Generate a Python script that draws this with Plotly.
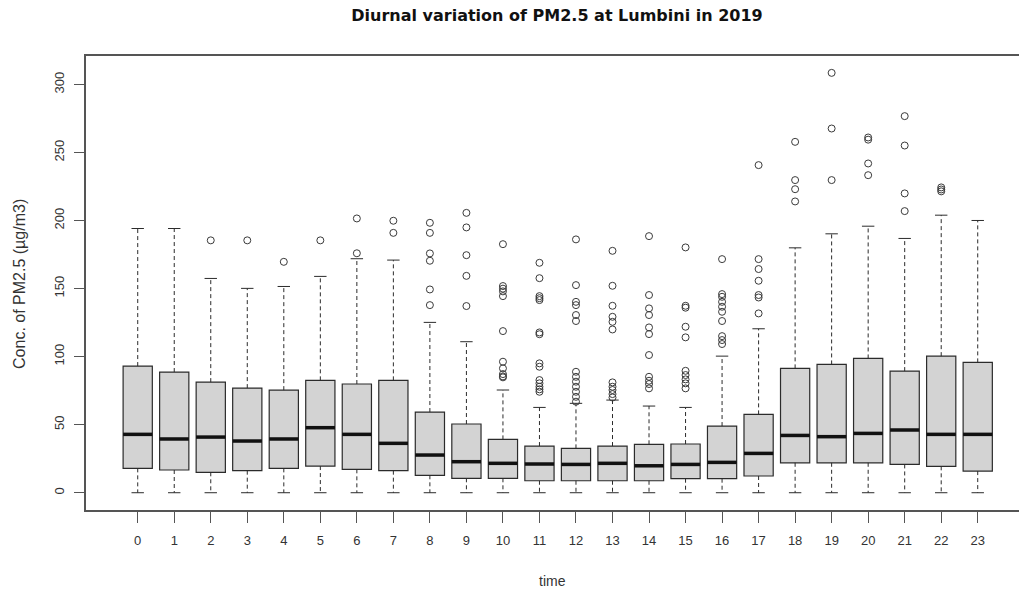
import plotly.graph_objects as go

# hours of the day
hours = list(range(24))

# box statistics (ug/m3)
q1 = [17.9, 16.7, 15.0, 16.2, 17.9, 19.6, 17.2, 16.2, 12.8, 10.6, 10.6, 8.8,
      8.8, 8.8, 8.8, 10.3, 10.3, 12.3, 22.0, 22.0, 22.0, 20.8, 19.4, 15.9]
median = [42.9, 39.5, 40.9, 38.0, 39.5, 47.8, 42.9, 36.3, 27.7, 22.8, 21.6, 21.1,
          20.8, 21.6, 19.8, 20.8, 22.3, 28.9, 42.1, 41.2, 43.6, 46.1, 42.9, 42.9]
q3 = [93.1, 88.7, 81.3, 76.9, 75.4, 82.6, 79.9, 82.6, 59.3, 50.5, 39.2, 34.3,
      32.6, 34.3, 35.6, 35.8, 49.0, 57.6, 91.4, 94.3, 98.7, 89.4, 100.4, 95.8]
lower = [0] * 24
upper = [194.2, 194.2, 157.5, 150.2, 151.6, 159.0, 172.0, 171.0, 125.2, 111.0,
         75.5, 62.7, 65.7, 68.1, 63.7, 62.7, 100.4, 120.5, 180.0, 190.3, 195.9,
         186.9, 204.0, 200.1]

outliers = [
    [],
    [],
    [185.5],
    [185.5],
    [169.7],
    [185.5],
    [201.6, 176.0],
    [199.9, 191.0],
    [198.4, 191.0, 175.9, 170.5, 149.4, 137.9],
    [205.7, 195.0, 174.6, 159.4, 137.2],
    [182.7, 151.9, 150.0, 148.0, 144.5, 118.8, 96.3, 91.4, 87.2, 85.5, 84.8],
    [169.0, 157.7, 144.5, 143.0, 141.6, 117.8, 116.5, 95.1, 92.6, 82.8, 80.4,
     77.9, 76.0, 74.2],
    [186.2, 152.6, 140.3, 137.9, 130.6, 126.2, 88.9, 85.2, 81.6, 77.9, 74.2,
     70.5, 66.9],
    [177.8, 152.1, 137.4, 129.3, 125.6, 120.0, 81.1, 77.9, 75.5, 72.5, 70.0],
    [188.6, 145.3, 135.5, 130.6, 121.5, 116.6, 101.2, 85.2, 82.3, 79.9, 76.7],
    [180.3, 137.4, 136.0, 122.0, 114.2, 89.6, 86.5, 83.3, 80.4, 76.7],
    [171.7, 146.0, 144.0, 140.3, 136.7, 133.0, 126.2, 115.1, 112.2, 109.3],
    [240.8, 171.7, 164.4, 155.8, 145.3, 143.5, 131.8],
    [257.9, 229.8, 223.1, 214.1],
    [308.6, 267.7, 229.8],
    [261.1, 259.5, 242.0, 233.4],
    [276.8, 255.2, 220.0, 207.0],
    [224.4, 222.9, 221.5],
    [],
]

ink = '#2b2b2b'
fig = go.Figure()

# whiskers (dashed) and staples
wx, wy, sx, sy = [], [], [], []
for h in hours:
    wx += [h, h, None, h, h, None]
    wy += [q3[h], upper[h], None, q1[h], lower[h], None]
    sx += [h - 0.17, h + 0.17, None, h - 0.17, h + 0.17, None]
    sy += [upper[h], upper[h], None, lower[h], lower[h], None]
fig.add_trace(go.Scatter(x=wx, y=wy, mode='lines',
                         line=dict(color=ink, width=1, dash='4px,3px'),
                         hoverinfo='skip'))
fig.add_trace(go.Scatter(x=sx, y=sy, mode='lines',
                         line=dict(color=ink, width=1), hoverinfo='skip'))

# boxes
fig.add_trace(go.Box(
    x=hours, q1=q1, median=median, q3=q3,
    lowerfence=q1, upperfence=q3,
    width=0.8, fillcolor='#d3d3d3',
    line=dict(color=ink, width=1.2),
    boxpoints=False,
))

# thick median bars
mx, my = [], []
for h in hours:
    mx += [h - 0.4, h + 0.4, None]
    my += [median[h], median[h], None]
fig.add_trace(go.Scatter(x=mx, y=my, mode='lines',
                         line=dict(color='#111111', width=3.5), hoverinfo='skip'))

# outliers
ox, oy = [], []
for h in hours:
    ox += [h] * len(outliers[h])
    oy += outliers[h]
fig.add_trace(go.Scatter(x=ox, y=oy, mode='markers',
                         marker=dict(symbol='circle-open', size=7,
                                     color='#3a3a3a', line=dict(width=1))))

fig.update_layout(
    width=1019, height=592,
    showlegend=False,
    paper_bgcolor='white', plot_bgcolor='white',
    margin=dict(l=86, r=0, t=56, b=82),
    font=dict(family='Liberation Sans, Arial, sans-serif', size=13, color='#333333'),
    title=dict(text='<b>Diurnal variation of PM2.5 at Lumbini in 2019</b>',
               x=0.5466, xanchor='center', y=0.974, yanchor='middle',
               font=dict(family='DejaVu Sans', size=16, color='#111111')),
    annotations=[
        dict(text='time', xref='paper', yref='paper', x=0.5, y=-0.156,
             xanchor='center', yanchor='middle', showarrow=False,
             font=dict(size=14, color='#333333')),
        dict(text='Conc. of PM2.5 (µg/m3)', xref='paper', yref='paper',
             x=-0.0707, y=0.498, xanchor='center', yanchor='middle',
             textangle=-90, showarrow=False,
             font=dict(size=16, color='#333333')),
    ],
)
fig.update_xaxes(
    range=[-1.416, 24.13], tickmode='array', tickvals=hours,
    ticktext=[str(h) for h in hours],
    showgrid=False, zeroline=False, automargin=False,
    showline=True, linecolor='#555555', linewidth=1.5, mirror=True,
    ticks='outside', ticklen=11, tickcolor='#555555',
    ticklabelstandoff=7,
)
fig.update_yaxes(
    range=[-12.7, 321], tickmode='array', tickvals=[0, 50, 100, 150, 200, 250, 300],
    showgrid=False, zeroline=False, automargin=False,
    showline=True, linecolor='#555555', linewidth=1.5, mirror=True,
    ticks='outside', ticklen=10, tickcolor='#555555',
    tickangle=-90, ticklabelstandoff=5,
)

# drop the default 8px body margin so the figure sits at the window corner
fig.write_html("out.html", config={'displayModeBar': False},
               post_script="document.body.style.margin='0';document.body.style.overflow='hidden';")
